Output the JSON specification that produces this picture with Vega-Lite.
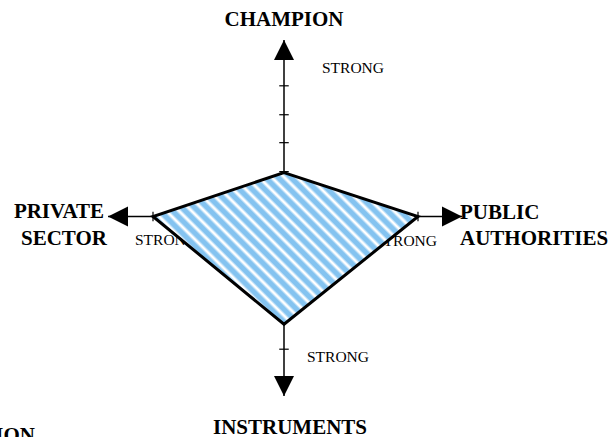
{
  "$schema": "https://vega.github.io/schema/vega-lite/v6.json",
  "width": 616,
  "height": 438,
  "autosize": {"type": "fit", "contains": "padding"},
  "padding": 0,
  "background": "white",
  "config": {"view": {"stroke": null}},
  "datasets": {
    "axes": [
      {"axis": "horizontal", "x": -176, "x2": 178, "y": 0, "y2": 0},
      {"axis": "vertical", "x": 0, "x2": 0, "y": -180, "y2": 177}
    ],
    "ticks": [
      {"x": 0, "y": 131, "dir": "h"},
      {"x": 0, "y": 102, "dir": "h"},
      {"x": 0, "y": 74, "dir": "h"},
      {"x": 0, "y": 45, "dir": "h"},
      {"x": 0, "y": -133, "dir": "h"},
      {"x": -131, "y": 0, "dir": "v"},
      {"x": 134, "y": 0, "dir": "v"}
    ],
    "arrows": [
      {"axis": "CHAMPION", "x": 0, "y": 167, "dir": "up"},
      {"axis": "PUBLIC AUTHORITIES", "x": 168, "y": 0, "dir": "right"},
      {"axis": "INSTRUMENTS", "x": 0, "y": -170, "dir": "down"},
      {"axis": "PRIVATE SECTOR", "x": -166, "y": 0, "dir": "left"}
    ],
    "polygon": [
      {"axis": "CHAMPION", "order": 1, "x": 0, "y": 44},
      {"axis": "PUBLIC AUTHORITIES", "order": 2, "x": 134, "y": 0},
      {"axis": "INSTRUMENTS", "order": 3, "x": 0, "y": -108},
      {"axis": "PRIVATE SECTOR", "order": 4, "x": -131, "y": 0}
    ],
    "labels": [
      {"label": "CHAMPION", "group": "boldCenter", "x": 0, "y": 191},
      {"label": "INSTRUMENTS", "group": "boldCenter", "x": 6, "y": -218},
      {"label": "PRIVATE", "group": "boldCenter", "x": -225, "y": -1},
      {"label": "SECTOR", "group": "boldCenter", "x": -220, "y": -29},
      {"label": "PUBLIC", "group": "boldLeft", "x": 176, "y": -2},
      {"label": "AUTHORITIES", "group": "boldLeft", "x": 176, "y": -29},
      {"label": "ION", "group": "boldRight", "x": -249, "y": -226},
      {"label": "STRONG", "group": "strongLeft", "x": 38, "y": 144},
      {"label": "STRONG", "group": "strongLeft", "x": 23, "y": -146},
      {"label": "STRONG", "group": "strongLeft", "x": -149, "y": -29},
      {"label": "STRONG", "group": "strongRight", "x": 153, "y": -30}
    ]
  },
  "encoding": {
    "x": {"field": "x", "type": "quantitative", "scale": {"domain": [-284, 332], "nice": false, "zero": false}, "axis": null},
    "y": {"field": "y", "type": "quantitative", "scale": {"domain": [-221, 217], "nice": false, "zero": false}, "axis": null}
  },
  "layer": [
    {
      "data": {"name": "axes"},
      "mark": {"type": "rule", "stroke": "black", "strokeWidth": 1.5},
      "encoding": {"x2": {"field": "x2"}, "y2": {"field": "y2"}}
    },
    {
      "data": {"name": "ticks"},
      "mark": {"type": "point", "filled": false, "stroke": "black", "strokeWidth": 1.2, "size": 90, "opacity": 1},
      "encoding": {
        "shape": {"field": "dir", "type": "nominal", "legend": null,
          "scale": {"domain": ["up", "right", "down", "left", "h", "v"],
                    "range": ["M0,-1L1,1L-1,1Z", "M1,0L-1,-1L-1,1Z", "M0,1L1,-1L-1,-1Z", "M-1,0L1,-1L1,1Z", "M-1,0L1,0", "M0,-1L0,1"]}}
      }
    },
    {
      "data": {"name": "labels"},
      "transform": [{"filter": "datum.group === 'strongLeft'"}],
      "mark": {"type": "text", "font": "Liberation Serif", "fontSize": 15.5, "align": "left", "baseline": "alphabetic", "color": "black"},
      "encoding": {"text": {"field": "label"}}
    },
    {
      "data": {"name": "labels"},
      "transform": [{"filter": "datum.group === 'strongRight'"}],
      "mark": {"type": "text", "font": "Liberation Serif", "fontSize": 15.5, "align": "right", "baseline": "alphabetic", "color": "black"},
      "encoding": {"text": {"field": "label"}}
    },
    {
      "data": {"name": "polygon"},
      "mark": {
        "type": "line",
        "interpolate": "linear-closed",
        "stroke": "black",
        "strokeWidth": 3,
        "strokeJoin": "miter",
        "fill": {
          "gradient": "linear",
          "x1": 0, "y1": 1, "x2": 1.184, "y2": 0.32,
          "stops": [
            {"offset": 0, "color": "#ffffff"}, {"offset": 0.003, "color": "#ffffff"}, {"offset": 0.0106, "color": "#84c3f0"}, {"offset": 0.0227, "color": "#84c3f0"},
            {"offset": 0.0303, "color": "#ffffff"}, {"offset": 0.0333, "color": "#ffffff"}, {"offset": 0.0409, "color": "#84c3f0"}, {"offset": 0.053, "color": "#84c3f0"},
            {"offset": 0.0606, "color": "#ffffff"}, {"offset": 0.0636, "color": "#ffffff"}, {"offset": 0.0712, "color": "#84c3f0"}, {"offset": 0.0833, "color": "#84c3f0"},
            {"offset": 0.0909, "color": "#ffffff"}, {"offset": 0.0939, "color": "#ffffff"}, {"offset": 0.1015, "color": "#84c3f0"}, {"offset": 0.1136, "color": "#84c3f0"},
            {"offset": 0.1212, "color": "#ffffff"}, {"offset": 0.1242, "color": "#ffffff"}, {"offset": 0.1318, "color": "#84c3f0"}, {"offset": 0.1439, "color": "#84c3f0"},
            {"offset": 0.1515, "color": "#ffffff"}, {"offset": 0.1545, "color": "#ffffff"}, {"offset": 0.1621, "color": "#84c3f0"}, {"offset": 0.1742, "color": "#84c3f0"},
            {"offset": 0.1818, "color": "#ffffff"}, {"offset": 0.1848, "color": "#ffffff"}, {"offset": 0.1924, "color": "#84c3f0"}, {"offset": 0.2045, "color": "#84c3f0"},
            {"offset": 0.2121, "color": "#ffffff"}, {"offset": 0.2151, "color": "#ffffff"}, {"offset": 0.2227, "color": "#84c3f0"}, {"offset": 0.2348, "color": "#84c3f0"},
            {"offset": 0.2424, "color": "#ffffff"}, {"offset": 0.2454, "color": "#ffffff"}, {"offset": 0.253, "color": "#84c3f0"}, {"offset": 0.2651, "color": "#84c3f0"},
            {"offset": 0.2727, "color": "#ffffff"}, {"offset": 0.2757, "color": "#ffffff"}, {"offset": 0.2833, "color": "#84c3f0"}, {"offset": 0.2954, "color": "#84c3f0"},
            {"offset": 0.303, "color": "#ffffff"}, {"offset": 0.306, "color": "#ffffff"}, {"offset": 0.3136, "color": "#84c3f0"}, {"offset": 0.3257, "color": "#84c3f0"},
            {"offset": 0.3333, "color": "#ffffff"}, {"offset": 0.3363, "color": "#ffffff"}, {"offset": 0.3439, "color": "#84c3f0"}, {"offset": 0.356, "color": "#84c3f0"},
            {"offset": 0.3636, "color": "#ffffff"}, {"offset": 0.3666, "color": "#ffffff"}, {"offset": 0.3742, "color": "#84c3f0"}, {"offset": 0.3863, "color": "#84c3f0"},
            {"offset": 0.3939, "color": "#ffffff"}, {"offset": 0.3969, "color": "#ffffff"}, {"offset": 0.4045, "color": "#84c3f0"}, {"offset": 0.4166, "color": "#84c3f0"},
            {"offset": 0.4242, "color": "#ffffff"}, {"offset": 0.4272, "color": "#ffffff"}, {"offset": 0.4348, "color": "#84c3f0"}, {"offset": 0.4469, "color": "#84c3f0"},
            {"offset": 0.4545, "color": "#ffffff"}, {"offset": 0.4575, "color": "#ffffff"}, {"offset": 0.4651, "color": "#84c3f0"}, {"offset": 0.4772, "color": "#84c3f0"},
            {"offset": 0.4848, "color": "#ffffff"}, {"offset": 0.4878, "color": "#ffffff"}, {"offset": 0.4954, "color": "#84c3f0"}, {"offset": 0.5075, "color": "#84c3f0"},
            {"offset": 0.5152, "color": "#ffffff"}, {"offset": 0.5182, "color": "#ffffff"}, {"offset": 0.5258, "color": "#84c3f0"}, {"offset": 0.5379, "color": "#84c3f0"},
            {"offset": 0.5455, "color": "#ffffff"}, {"offset": 0.5485, "color": "#ffffff"}, {"offset": 0.5561, "color": "#84c3f0"}, {"offset": 0.5682, "color": "#84c3f0"},
            {"offset": 0.5758, "color": "#ffffff"}, {"offset": 0.5788, "color": "#ffffff"}, {"offset": 0.5864, "color": "#84c3f0"}, {"offset": 0.5985, "color": "#84c3f0"},
            {"offset": 0.6061, "color": "#ffffff"}, {"offset": 0.6091, "color": "#ffffff"}, {"offset": 0.6167, "color": "#84c3f0"}, {"offset": 0.6288, "color": "#84c3f0"},
            {"offset": 0.6364, "color": "#ffffff"}, {"offset": 0.6394, "color": "#ffffff"}, {"offset": 0.647, "color": "#84c3f0"}, {"offset": 0.6591, "color": "#84c3f0"},
            {"offset": 0.6667, "color": "#ffffff"}, {"offset": 0.6697, "color": "#ffffff"}, {"offset": 0.6773, "color": "#84c3f0"}, {"offset": 0.6894, "color": "#84c3f0"},
            {"offset": 0.697, "color": "#ffffff"}, {"offset": 0.7, "color": "#ffffff"}, {"offset": 0.7076, "color": "#84c3f0"}, {"offset": 0.7197, "color": "#84c3f0"},
            {"offset": 0.7273, "color": "#ffffff"}, {"offset": 0.7303, "color": "#ffffff"}, {"offset": 0.7379, "color": "#84c3f0"}, {"offset": 0.75, "color": "#84c3f0"},
            {"offset": 0.7576, "color": "#ffffff"}, {"offset": 0.7606, "color": "#ffffff"}, {"offset": 0.7682, "color": "#84c3f0"}, {"offset": 0.7803, "color": "#84c3f0"},
            {"offset": 0.7879, "color": "#ffffff"}, {"offset": 0.7909, "color": "#ffffff"}, {"offset": 0.7985, "color": "#84c3f0"}, {"offset": 0.8106, "color": "#84c3f0"},
            {"offset": 0.8182, "color": "#ffffff"}, {"offset": 0.8212, "color": "#ffffff"}, {"offset": 0.8288, "color": "#84c3f0"}, {"offset": 0.8409, "color": "#84c3f0"},
            {"offset": 0.8485, "color": "#ffffff"}, {"offset": 0.8515, "color": "#ffffff"}, {"offset": 0.8591, "color": "#84c3f0"}, {"offset": 0.8712, "color": "#84c3f0"},
            {"offset": 0.8788, "color": "#ffffff"}, {"offset": 0.8818, "color": "#ffffff"}, {"offset": 0.8894, "color": "#84c3f0"}, {"offset": 0.9015, "color": "#84c3f0"},
            {"offset": 0.9091, "color": "#ffffff"}, {"offset": 0.9121, "color": "#ffffff"}, {"offset": 0.9197, "color": "#84c3f0"}, {"offset": 0.9318, "color": "#84c3f0"},
            {"offset": 0.9394, "color": "#ffffff"}, {"offset": 0.9424, "color": "#ffffff"}, {"offset": 0.95, "color": "#84c3f0"}, {"offset": 0.9621, "color": "#84c3f0"},
            {"offset": 0.9697, "color": "#ffffff"}, {"offset": 0.9727, "color": "#ffffff"}, {"offset": 0.9803, "color": "#84c3f0"}, {"offset": 0.9924, "color": "#84c3f0"},
            {"offset": 1, "color": "#ffffff"}
          ]
        }
      },
      "encoding": {"order": {"field": "order", "type": "quantitative"}}
    },
    {
      "data": {"name": "arrows"},
      "mark": {"type": "point", "filled": true, "fill": "black", "stroke": null, "size": 400, "opacity": 1},
      "encoding": {
        "shape": {"field": "dir", "type": "nominal", "legend": null,
          "scale": {"domain": ["up", "right", "down", "left", "h", "v"],
                    "range": ["M0,-1L1,1L-1,1Z", "M1,0L-1,-1L-1,1Z", "M0,1L1,-1L-1,-1Z", "M-1,0L1,-1L1,1Z", "M-1,0L1,0", "M0,-1L0,1"]}}
      }
    },
    {
      "data": {"name": "labels"},
      "transform": [{"filter": "datum.group === 'boldCenter'"}],
      "mark": {"type": "text", "font": "Liberation Serif", "fontWeight": "bold", "fontSize": 21, "align": "center", "baseline": "alphabetic", "color": "black"},
      "encoding": {"text": {"field": "label"}}
    },
    {
      "data": {"name": "labels"},
      "transform": [{"filter": "datum.group === 'boldLeft'"}],
      "mark": {"type": "text", "font": "Liberation Serif", "fontWeight": "bold", "fontSize": 21, "align": "left", "baseline": "alphabetic", "color": "black"},
      "encoding": {"text": {"field": "label"}}
    },
    {
      "data": {"name": "labels"},
      "transform": [{"filter": "datum.group === 'boldRight'"}],
      "mark": {"type": "text", "font": "Liberation Serif", "fontWeight": "bold", "fontSize": 21, "align": "right", "baseline": "alphabetic", "color": "black", "clip": true},
      "encoding": {"text": {"field": "label"}}
    }
  ]
}
